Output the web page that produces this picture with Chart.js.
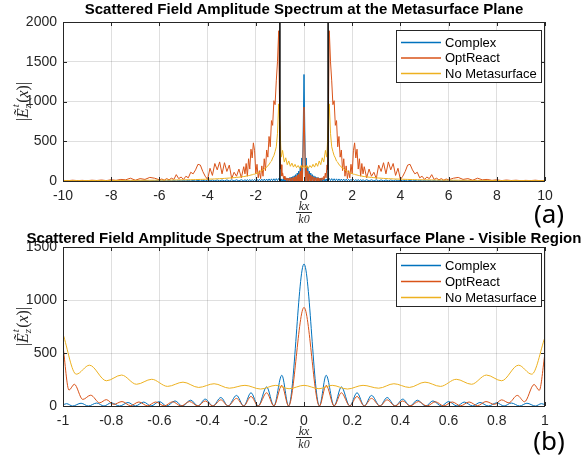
<!DOCTYPE html>
<html>
<head>
<meta charset="utf-8">
<script src="https://cdn.jsdelivr.net/npm/chart.js@4.4.1/dist/chart.umd.min.js"></script>
<style>
  html, body { margin: 0; padding: 0; background: #fff; }
  #wrap { position: relative; width: 584px; height: 458px; }
  canvas { position: absolute; left: 0; }
</style>
</head>
<body>
<div id="wrap">
  <canvas id="topChart" width="584" height="229" style="top:0"></canvas>
  <canvas id="bottomChart" width="584" height="229" style="top:229px"></canvas>
</div>
<script>
// ---- data ----
var seriesNames = ['Complex', 'OptReact', 'No Metasurface'];
var seriesColors = ['#0072BD', '#D95319', '#EDB120'];

// visible region |kx/k0| <= 1 (used by both panels)
var visXComplex = [-1, -0.985, -0.96, -0.925, -0.895, -0.86, -0.83, -0.8, -0.765, -0.73, -0.7, -0.665, -0.635, -0.6, -0.57, -0.535, -0.505, -0.47, -0.44, -0.41, -0.378, -0.345, -0.315, -0.28, -0.25, -0.22, -0.19, -0.155, -0.125, -0.092, -0.064, 0,
  0.064, 0.092, 0.125, 0.155, 0.19, 0.22, 0.25, 0.28, 0.315, 0.345, 0.378, 0.41, 0.44, 0.47, 0.505, 0.535, 0.57, 0.6, 0.635, 0.665, 0.7, 0.73, 0.765, 0.8, 0.83, 0.86, 0.895, 0.925, 0.96, 0.985, 1];
var visComplex = [10, 22, 0, 26, 0, 28, 0, 30, 0, 33, 0, 37, 0, 42, 0, 48, 0, 55, 0, 65, 0, 80, 0, 100, 0, 125, 0, 180, 0, 290, 0, 1340,
  0, 290, 0, 180, 0, 125, 0, 100, 0, 80, 0, 65, 0, 55, 0, 48, 0, 42, 0, 37, 0, 33, 0, 30, 0, 28, 0, 26, 0, 22, 12];

var visXOpt = [-1, -0.975, -0.953, -0.918, -0.885, -0.848, -0.82, -0.79, -0.755, -0.72, -0.685, -0.65, -0.615, -0.58, -0.545, -0.51, -0.475, -0.44, -0.41, -0.378, -0.345, -0.315, -0.28, -0.25, -0.22, -0.19, -0.155, -0.125, -0.092, -0.064, 0,
  0.064, 0.092, 0.125, 0.155, 0.19, 0.22, 0.25, 0.28, 0.315, 0.345, 0.378, 0.41, 0.44, 0.475, 0.51, 0.545, 0.58, 0.615, 0.65, 0.685, 0.72, 0.755, 0.79, 0.82, 0.85, 0.885, 0.915, 0.955, 0.976, 1];
var visOpt = [565, 150, 205, 62, 102, 30, 60, 15, 42, 3, 38, 2, 38, 1, 40, 0, 42, 0, 48, 0, 58, 0, 72, 0, 90, 0, 125, 0, 195, 0, 930,
  0, 195, 0, 125, 0, 90, 0, 72, 0, 58, 0, 48, 0, 42, 0, 40, 1, 38, 2, 38, 3, 42, 15, 58, 30, 100, 40, 203, 147, 500];

var visXNoMeta = [-1, -0.945, -0.89, -0.82, -0.757, -0.695, -0.632, -0.566, -0.502, -0.437, -0.373, -0.31, -0.245, -0.18, -0.117, -0.062, 0,
  0.062, 0.117, 0.18, 0.245, 0.31, 0.373, 0.437, 0.502, 0.566, 0.632, 0.695, 0.757, 0.82, 0.89, 0.945, 1];
var visNoMeta = [680, 300, 385, 238, 292, 205, 252, 185, 225, 175, 210, 168, 195, 160, 195, 163, 195,
  163, 195, 160, 195, 168, 210, 175, 225, 185, 252, 205, 292, 238, 385, 300, 650];

// evanescent region, left side (kx/k0 < -1)
var outerXL = [-10, -9.8, -9.6, -9.4, -9.2, -9, -8.8, -8.6, -8.4, -8.2, -8, -7.8, -7.6, -7.4, -7.2, -7, -6.8, -6.6, -6.4, -6.2,
  -6, -5.9, -5.8, -5.7, -5.6, -5.5, -5.4, -5.3, -5.2, -5.1, -5, -4.9, -4.8, -4.7, -4.6, -4.5, -4.4, -4.3, -4.2, -4.1,
  -4, -3.9, -3.8, -3.7, -3.6, -3.5, -3.4, -3.3, -3.2, -3.1, -3, -2.9, -2.8, -2.7, -2.6,
  -2.5, -2.45, -2.4, -2.35, -2.3, -2.25, -2.2, -2.15, -2.1, -2.05, -2, -1.95, -1.9, -1.85, -1.8, -1.75, -1.7, -1.65, -1.6, -1.55,
  -1.5, -1.45, -1.4, -1.35, -1.3, -1.25, -1.2, -1.15, -1.1, -1.05];
var outerComplexL = [1, 2, 1, 2, 1, 2, 1, 2, 1, 3, 1, 3, 1, 3, 1, 3, 1, 4, 1, 4,
  4, 1, 5, 1, 5, 1, 5, 1, 6, 1, 6, 1, 7, 1, 7, 1, 8, 1, 8, 1,
  11, 1, 12, 1, 13, 1, 13, 1, 14, 1, 15, 1, 15, 1, 16,
  1, 18, 1, 18, 1, 19, 2, 19, 2, 20, 2, 21, 2, 22, 2, 23, 2, 24, 2, 25,
  2, 26, 2, 27, 3, 28, 3, 30, 4, 32];
var outerOptL = [8, 4, 10, 5, 8, 4, 10, 6, 12, 5, 15, 8, 20, 15, 35, 10, 30, 20, 45, 35,
  15, 25, 10, 30, 15, 35, 20, 80, 30, 50, 20, 60, 40, 110, 90, 140, 210, 200, 120, 60,
  20, 160, 70, 220, 140, 240, 90, 230, 120, 200, 30, 110, 60, 150, 40,
  180, 90, 220, 60, 280, 150, 400, 290, 480, 380, 90, 210, 40, 130, 30, 190, 60, 280, 130, 390,
  300, 560, 430, 760, 700, 1010, 960, 1260, 1500, 1890];
var outerNoMetaL = [5, 5, 5, 5, 5, 5, 6, 6, 6, 6, 7, 7, 7, 8, 8, 8, 9, 9, 10, 10,
  11, 11, 11, 12, 12, 12, 13, 13, 14, 14, 15, 15, 16, 16, 17, 18, 19, 20, 21, 22,
  23, 24, 25, 26, 28, 29, 31, 33, 35, 37, 40, 42, 45, 48, 52,
  56, 58, 62, 64, 68, 70, 76, 78, 84, 86, 94, 96, 108, 110, 124, 126, 142, 148, 168, 172,
  195, 205, 235, 250, 290, 320, 370, 430, 600, 970];

// evanescent region, right side (kx/k0 > 1)
var outerXR = [1.05, 1.1, 1.15, 1.2, 1.25, 1.3, 1.35, 1.4, 1.45, 1.5, 1.55, 1.6, 1.65, 1.7, 1.75, 1.8, 1.85, 1.9, 1.95, 2,
  2.05, 2.1, 2.15, 2.2, 2.25, 2.3, 2.35, 2.4, 2.45, 2.5,
  2.6, 2.7, 2.8, 2.9, 3, 3.1, 3.2, 3.3, 3.4, 3.5, 3.6, 3.7, 3.8, 3.9, 4, 4.1, 4.2, 4.3, 4.4, 4.5,
  4.6, 4.7, 4.8, 4.9, 5, 5.1, 5.2, 5.3, 5.4, 5.5, 5.6, 5.7, 5.8, 5.9, 6,
  6.2, 6.4, 6.6, 6.8, 7, 7.2, 7.4, 7.6, 7.8, 8, 8.2, 8.4, 8.6, 8.8, 9, 9.2, 9.4, 9.6, 9.8, 10];
var outerComplexR = [32, 4, 30, 3, 28, 3, 27, 2, 26, 2, 25, 2, 24, 2, 23, 2, 22, 2, 21, 2,
  20, 2, 19, 2, 19, 1, 18, 1, 18, 1,
  16, 1, 15, 1, 15, 1, 14, 1, 13, 1, 13, 1, 12, 1, 11, 1, 8, 1, 8, 1,
  7, 1, 7, 1, 6, 1, 6, 1, 5, 1, 5, 1, 5, 1, 4,
  4, 1, 4, 1, 3, 1, 3, 1, 3, 1, 3, 1, 2, 1, 2, 1, 2, 1, 2, 1];
var outerOptR = [1890, 1500, 1260, 960, 1010, 700, 760, 430, 560, 300, 390, 130, 280, 60, 190, 30, 130, 40, 210, 90,
  380, 480, 290, 400, 150, 280, 60, 220, 90, 180,
  40, 150, 60, 110, 30, 200, 120, 230, 90, 240, 140, 220, 70, 160, 20, 60, 120, 200, 210, 140,
  90, 110, 40, 60, 20, 50, 30, 80, 20, 35, 15, 30, 10, 25, 15,
  35, 45, 20, 30, 10, 35, 15, 20, 8, 15, 5, 12, 6, 10, 4, 8, 5, 10, 4, 8];
var outerNoMetaR = [970, 600, 430, 370, 320, 290, 250, 235, 205, 195, 172, 168, 148, 142, 126, 124, 110, 108, 96, 94,
  86, 84, 78, 76, 70, 68, 64, 62, 58, 56,
  52, 48, 45, 42, 40, 37, 35, 33, 31, 29, 28, 26, 25, 24, 23, 22, 21, 20, 19, 18,
  17, 16, 16, 15, 15, 14, 14, 13, 13, 12, 12, 12, 11, 11, 11,
  10, 10, 9, 9, 8, 8, 8, 7, 7, 7, 6, 6, 6, 6, 5, 5, 5, 5, 5, 5];

// visible-region marker box in panel (a)
var boxX = [-1, -1, 1, 1];
var boxY = [0, 2000, 2000, 0];

var topTicksX = [-10, 10, 2];
var topTicksY = [0, 2000, 500];
var bottomTicksX = [-1, 1, 0.2];
var bottomTicksY = [0, 1500, 500];

// ---- helpers ----
function pts(xs, ys) {
  return xs.map(function(x, i) { return {x: x, y: ys[i]}; });
}

var AX = '#262626';
var SANS = '"Liberation Sans", Arial, sans-serif';
var SERIF = '"Liberation Serif", "DejaVu Serif", serif';

function decoPlugin(o) {
  return {
    id: 'deco' + o.letter,
    afterDatasetsDraw: function(chart) {
      var ctx = chart.ctx, a = chart.chartArea;
      var xs = chart.scales.x, ys = chart.scales.y;
      ctx.save();
      // axes box
      ctx.strokeStyle = AX;
      ctx.lineWidth = 1;
      ctx.strokeRect(a.left + 0.5, a.top + 0.5, a.right - a.left - 1, a.bottom - a.top);
      // inward ticks on all four sides
      ctx.beginPath();
      xs.ticks.forEach(function(t) {
        var px = Math.round(xs.getPixelForValue(t.value)) + 0.5;
        ctx.moveTo(px, a.bottom); ctx.lineTo(px, a.bottom - 4);
        ctx.moveTo(px, a.top); ctx.lineTo(px, a.top + 4);
      });
      ys.ticks.forEach(function(t) {
        var py = Math.round(ys.getPixelForValue(t.value)) + 0.5;
        ctx.moveTo(a.left, py); ctx.lineTo(a.left + 4, py);
        ctx.moveTo(a.right, py); ctx.lineTo(a.right - 4, py);
      });
      ctx.stroke();

      // legend box
      var L = o.legend;
      ctx.fillStyle = '#fff';
      ctx.fillRect(L.x, L.y, L.w, L.h);
      ctx.strokeStyle = AX;
      ctx.strokeRect(L.x + 0.5, L.y + 0.5, L.w, L.h);
      ctx.font = '13px ' + SANS;
      ctx.textBaseline = 'middle';
      ctx.textAlign = 'left';
      for (var i = 0; i < seriesNames.length; i++) {
        var ry = L.y + L.row0 + i * L.dy;
        ctx.strokeStyle = seriesColors[i];
        ctx.lineWidth = 1.5;
        ctx.beginPath();
        ctx.moveTo(L.x + 5, ry + 0.5);
        ctx.lineTo(L.x + 45, ry + 0.5);
        ctx.stroke();
        ctx.fillStyle = '#000';
        ctx.fillText(seriesNames[i], L.x + 49, ry + 1);
      }
      ctx.restore();
    },
    afterDraw: function(chart) {
      var ctx = chart.ctx, a = chart.chartArea;
      var cx = (a.left + a.right) / 2;
      ctx.save();
      // title
      ctx.fillStyle = '#000';
      ctx.font = 'bold 15px ' + SANS;
      ctx.textAlign = 'center';
      ctx.textBaseline = 'middle';
      ctx.fillText(o.title, cx, o.titleY);

      // x label: kx / k0 fraction
      ctx.fillStyle = AX;
      ctx.font = 'italic 12px ' + SERIF;
      ctx.textBaseline = 'alphabetic';
      ctx.fillText('kx', cx, o.fracY - 2);
      ctx.fillRect(cx - 8, o.fracY, 16, 1);
      ctx.fillText('k0', cx, o.fracY + 11);

      // y label |E~_z^t(x)|
      ctx.translate(22, (a.top + a.bottom) / 2);
      ctx.rotate(-Math.PI / 2);
      var fR = '16px ' + SERIF, fI = 'italic 16px ' + SERIF, fS = 'italic 11px ' + SERIF;
      var parts = [['|', fR], ['\u1EBC', fI], ['S', fS], ['(', fR], ['x', fI], [')', fR], ['|', fR]];
      var widths = parts.map(function(p) {
        if (p[0] === 'S') { ctx.font = fS; return ctx.measureText('z').width + 1; }
        ctx.font = p[1]; return ctx.measureText(p[0]).width;
      });
      var total = widths.reduce(function(s, w) { return s + w; }, 0);
      var x0 = -total / 2;
      ctx.textAlign = 'left';
      parts.forEach(function(p, i) {
        if (p[0] === 'S') {
          ctx.font = fS;
          ctx.fillText('t', x0 + 1, -3);
          ctx.fillText('z', x0, 9);
        } else {
          ctx.font = p[1];
          ctx.fillText(p[0], x0, 6);
        }
        x0 += widths[i];
      });
      ctx.restore();

      // panel letter
      ctx.save();
      ctx.fillStyle = '#000';
      ctx.font = '26px "Noto Sans", "Open Sans", sans-serif';
      ctx.textAlign = 'center';
      ctx.textBaseline = 'alphabetic';
      ctx.fillText(o.letter, 549, o.letterY);
      ctx.restore();
    }
  };
}

function axisOpts(tk, fitW, fitH, isX) {
  var s = {
    type: 'linear',
    min: tk[0],
    max: tk[1],
    grid: { color: 'rgba(38,38,38,0.15)', lineWidth: 1, drawTicks: false },
    border: { display: false },
    ticks: {
      stepSize: tk[2],
      color: AX,
      font: { family: SANS, size: 14 },
      padding: isX ? 7 : 6,
      maxRotation: 0,
      autoSkip: false,
      callback: function(v) { return String(Math.round(v * 10) / 10); }
    }
  };
  if (isX) s.afterFit = function(sc) { sc.height = fitH; };
  else s.afterFit = function(sc) { sc.width = fitW; };
  return s;
}

function lineSet(label, data, color, order, smooth, width) {
  return {
    label: label,
    data: data,
    borderColor: color,
    backgroundColor: color,
    borderWidth: width || 1,
    pointRadius: 0,
    fill: false,
    order: order,
    tension: 0,
    cubicInterpolationMode: smooth ? 'monotone' : 'default'
  };
}

Chart.defaults.font.family = SANS;

// ---- panel (a): full spectrum ----
new Chart(document.getElementById('topChart'), {
  type: 'line',
  data: {
    datasets: [
      lineSet('box', pts(boxX, boxY), '#000', 0, false, 1.5),
      lineSet(seriesNames[2], pts(outerXL, outerNoMetaL).concat(pts(visXNoMeta, visNoMeta), pts(outerXR, outerNoMetaR)), seriesColors[2], 1, false),
      lineSet(seriesNames[1], pts(outerXL, outerOptL).concat(pts(visXOpt, visOpt), pts(outerXR, outerOptR)), seriesColors[1], 2, false),
      lineSet(seriesNames[0], pts(outerXL, outerComplexL).concat(pts(visXComplex, visComplex), pts(outerXR, outerComplexR)), seriesColors[0], 3, false)
    ]
  },
  options: {
    responsive: false,
    devicePixelRatio: 1,
    animation: false,
    layout: { padding: { left: 0, right: 39, top: 22, bottom: 0 } },
    plugins: { legend: { display: false }, tooltip: { enabled: false } },
    scales: {
      x: axisOpts(topTicksX, 0, 48, true),
      y: axisOpts(topTicksY, 63, 0, false)
    }
  },
  plugins: [decoPlugin({
    title: 'Scattered Field Amplitude Spectrum at the Metasurface Plane',
    titleY: 10, fracY: 212, letter: '(a)', letterY: 223,
    legend: { x: 396, y: 30, w: 145, h: 52, row0: 12, dy: 15.5 }
  })]
});

// ---- panel (b): visible region ----
new Chart(document.getElementById('bottomChart'), {
  type: 'line',
  data: {
    datasets: [
      lineSet(seriesNames[2], pts(visXNoMeta, visNoMeta), seriesColors[2], 1, true),
      lineSet(seriesNames[1], pts(visXOpt, visOpt), seriesColors[1], 2, true),
      lineSet(seriesNames[0], pts(visXComplex, visComplex), seriesColors[0], 3, true)
    ]
  },
  options: {
    responsive: false,
    devicePixelRatio: 1,
    animation: false,
    layout: { padding: { left: 0, right: 39, top: 18, bottom: 0 } },
    plugins: { legend: { display: false }, tooltip: { enabled: false } },
    scales: {
      x: axisOpts(bottomTicksX, 0, 52, true),
      y: axisOpts(bottomTicksY, 63, 0, false)
    }
  },
  plugins: [decoPlugin({
    title: 'Scattered Field Amplitude Spectrum at the Metasurface Plane - Visible Region',
    titleY: 10, fracY: 208, letter: '(b)', letterY: 221,
    legend: { x: 396, y: 24, w: 145, h: 53, row0: 12, dy: 16 }
  })]
});
</script>
</body>
</html>
